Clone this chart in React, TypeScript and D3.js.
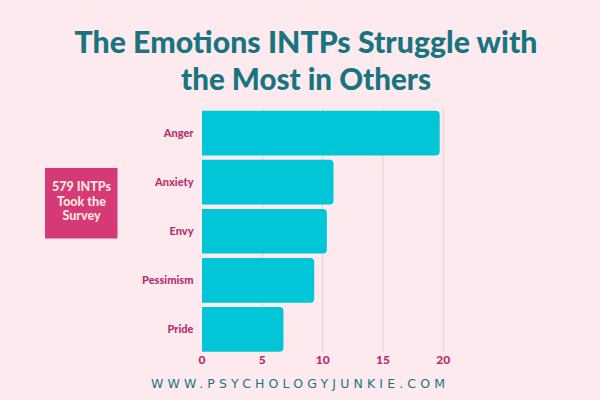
import React from "react";
import * as d3 from "d3";

const categories = ["Anger", "Anxiety", "Envy", "Pessimism", "Pride"];
const values = [19.7, 10.9, 10.35, 9.3, 6.75];
const ticks = [0, 5, 10, 15, 20];
const titleLines = ["The Emotions INTPs Struggle with", "the Most in Others"];
const boxLines = ["579 INTPs", "Took the", "Survey"];
const footer = "WWW.PSYCHOLOGYJUNKIE.COM";

const W = 600;
const H = 400;

export default function App() {
  const x = d3.scaleLinear().domain([0, 20]).range([202, 443.3]);
  const y = d3.scaleBand<string>().domain(categories).range([108.5, 354]).paddingInner(0.09).paddingOuter(0.045);
  const r = 4;
  const barPath = (v: number, c: string) => {
    const x0 = x(0);
    const x1 = x(v);
    const y0 = y(c)!;
    const h = y.bandwidth();
    const p = d3.path();
    p.moveTo(x0, y0);
    p.lineTo(x1 - r, y0);
    p.quadraticCurveTo(x1, y0, x1, y0 + r);
    p.lineTo(x1, y0 + h - r);
    p.quadraticCurveTo(x1, y0 + h, x1 - r, y0 + h);
    p.lineTo(x0, y0 + h);
    p.closePath();
    return p.toString();
  };
  const magenta = "#b5306b";
  const teal = "#1a7480";
  return (
    <svg width={W} height={H} style={{ position: "absolute", left: 0, top: 0 }}>
      <rect x={0} y={0} width={W} height={H} fill="#fdeaef" />
      {titleLines.map((t, i) => (
        <text
          key={t}
          x={306}
          y={53 + i * 36.5}
          textAnchor="middle"
          fontFamily="Lato, 'Open Sans', sans-serif"
          fontWeight={900}
          fontSize={29.5}
          fill={teal}
          textLength={i === 0 ? 463 : 250}
          lengthAdjust="spacingAndGlyphs"
        >
          {t}
        </text>
      ))}
      {ticks.slice(1).map((t) => (
        <line key={t} x1={x(t)} x2={x(t)} y1={108} y2={352} stroke="#ddd3d7" strokeWidth={1} />
      ))}
      {categories.map((c, i) => (
        <path key={c} d={barPath(values[i], c)} fill="#00c6d8" />
      ))}
      {categories.map((c) => (
        <text
          key={c}
          x={193.5}
          y={y(c)! + y.bandwidth() / 2}
          dy="0.35em"
          textAnchor="end"
          fontFamily="Lato, sans-serif"
          fontWeight={900}
          fontSize={11}
          fill={magenta}
        >
          {c}
        </text>
      ))}
      {ticks.map((t) => (
        <text
          key={t}
          x={x(t)}
          y={360}
          dy="0.35em"
          textAnchor="middle"
          fontFamily="Lato, sans-serif"
          fontWeight={900}
          fontSize={12}
          fill={magenta}
        >
          {t}
        </text>
      ))}
      <rect x={45} y={168} width={72.5} height={70.5} fill="#d63a76" />
      {boxLines.map((t, i) => (
        <text
          key={t}
          x={81.5}
          y={187 + i * 14.5}
          dy="0.35em"
          textAnchor="middle"
          fontFamily="Lato, sans-serif"
          fontWeight={900}
          fontSize={12.5}
          fill="#fde6df"
        >
          {t}
        </text>
      ))}
      <text
        x={298}
        y={384}
        dy="0.35em"
        textAnchor="middle"
        fontFamily="'DejaVu Sans', sans-serif"
        fontSize={12.5}
        fill={teal}
        textLength={294}
        lengthAdjust="spacing"
      >
        {footer}
      </text>
    </svg>
  );
}
